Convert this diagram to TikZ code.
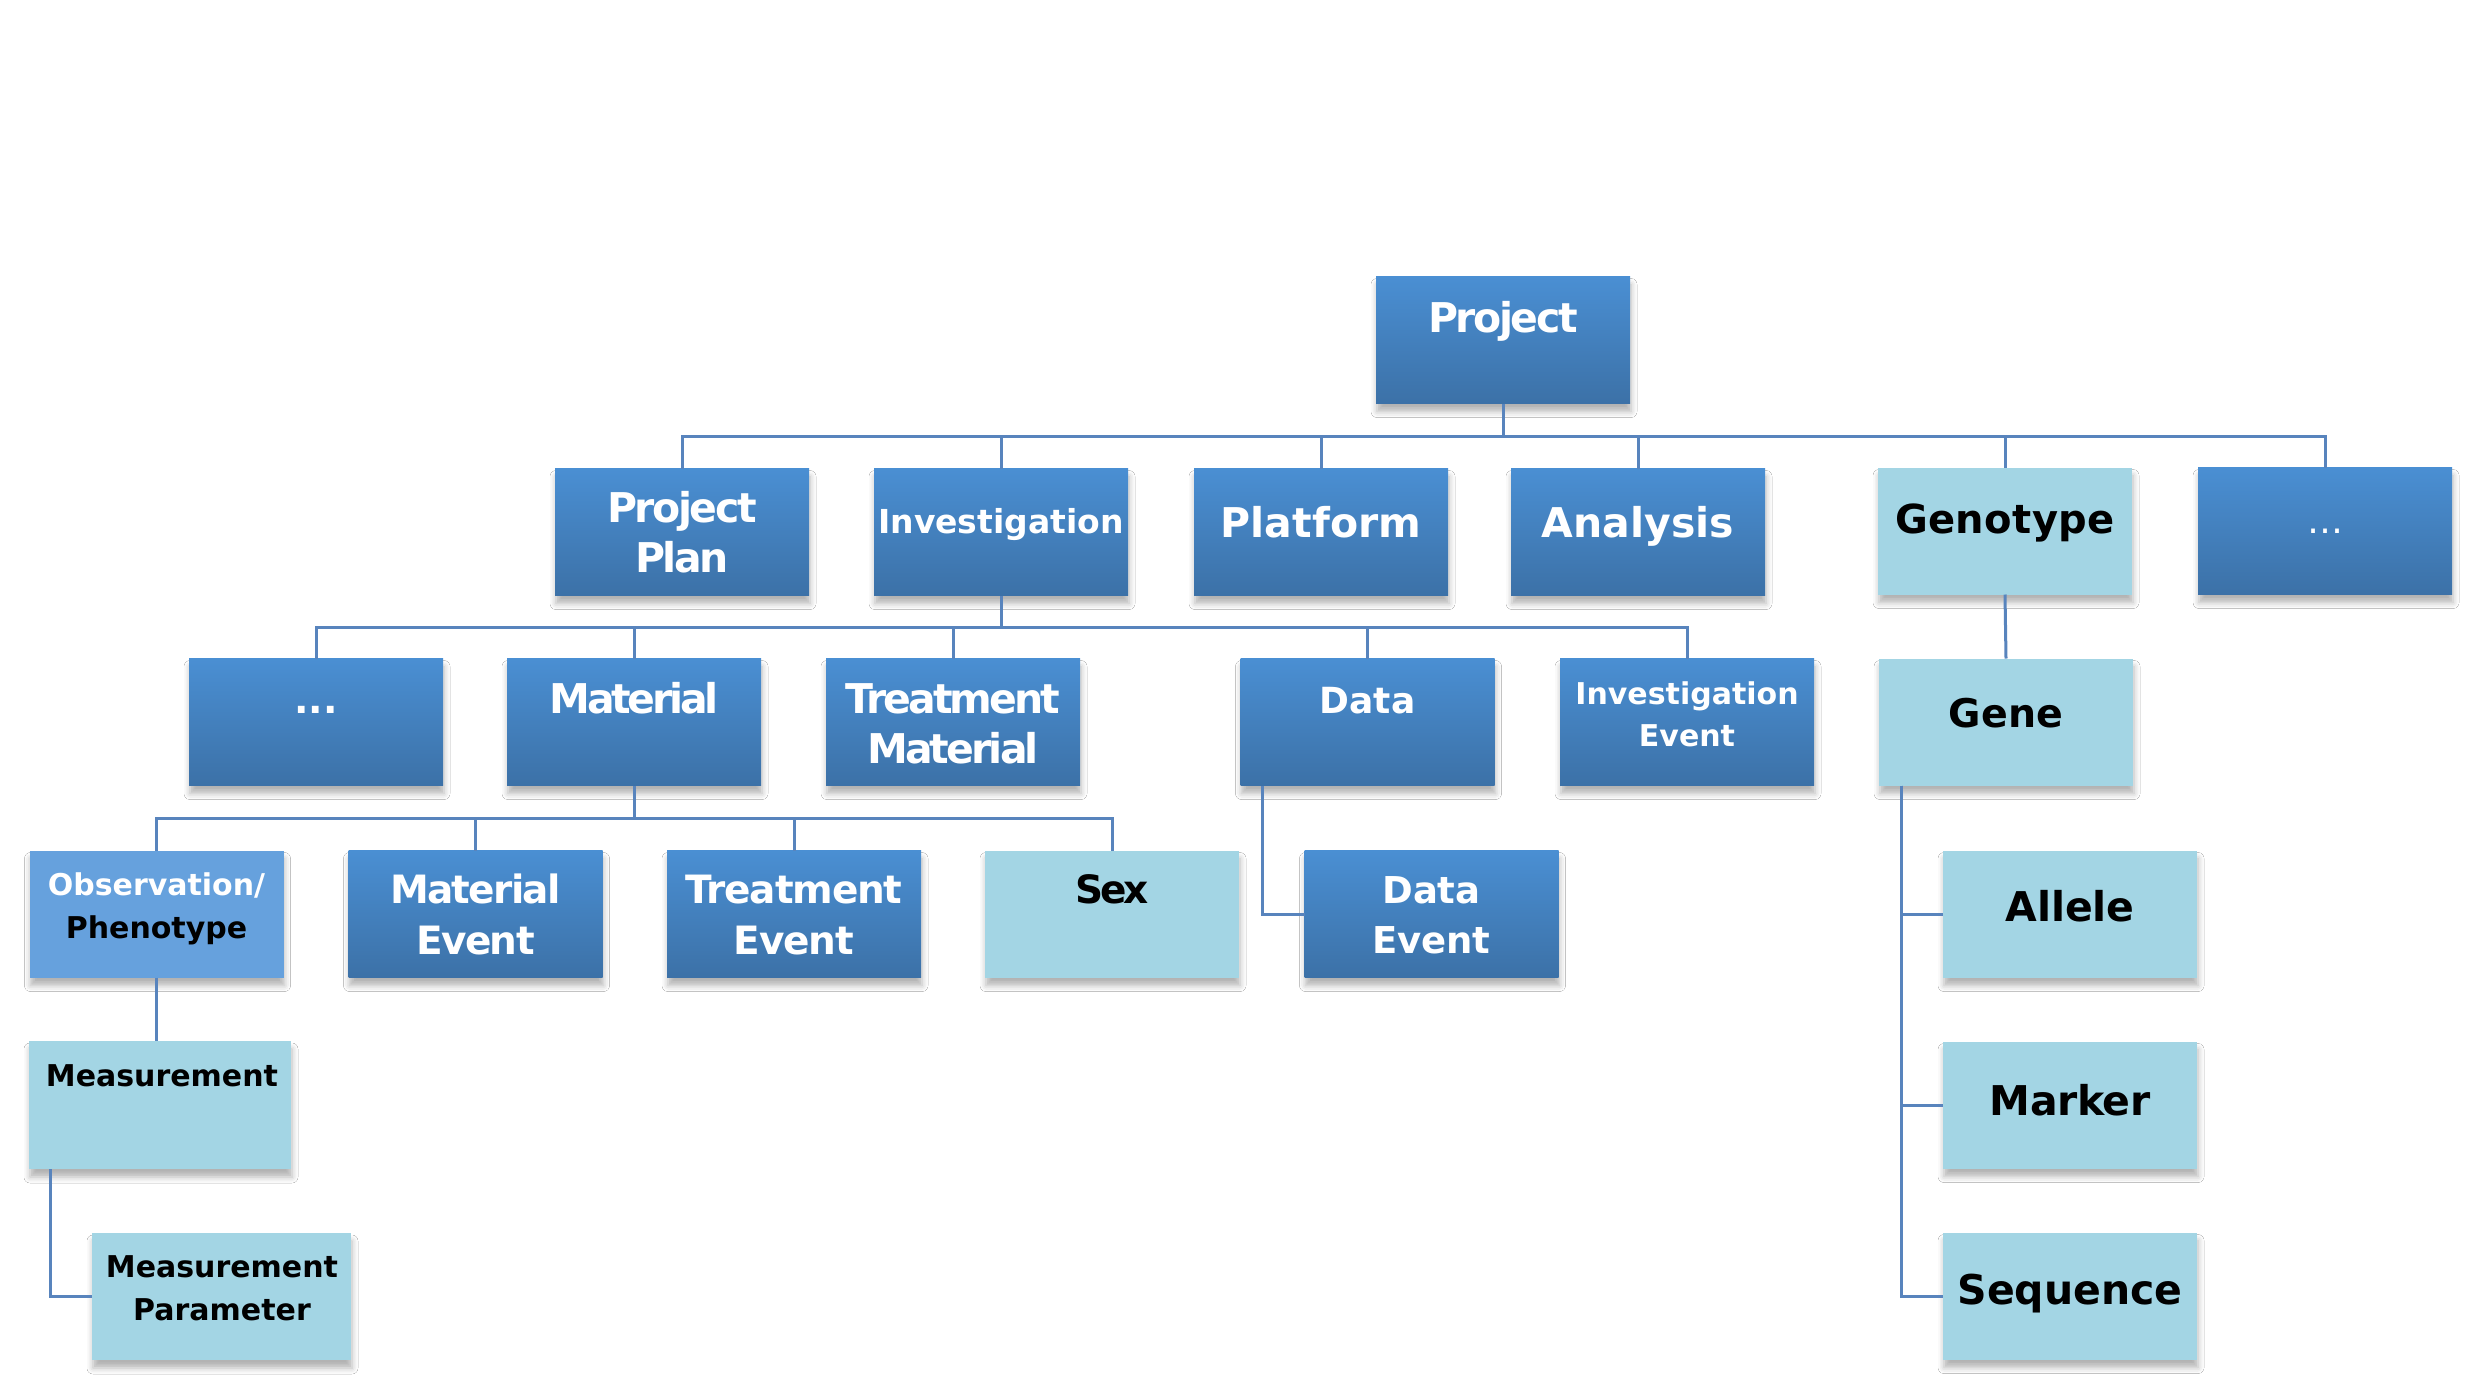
\documentclass[tikz,border=0pt]{standalone}
\usepackage{fontspec}
\setmainfont{DejaVu Sans}
\usetikzlibrary{shadows.blur}
\definecolor{dtop}{HTML}{4A8FD3}
\definecolor{dbot}{HTML}{3C71A7}
\definecolor{lite}{HTML}{A3D5E4}
\definecolor{obsc}{HTML}{66A1DD}
\definecolor{connc}{HTML}{5884BD}
\tikzset{
  boxbase/.style={rectangle, inner sep=0pt, outer sep=0pt, minimum width=254pt, minimum height=127pt,
    blur shadow={shadow xshift=1pt, shadow yshift=-8pt, shadow blur radius=6pt, shadow opacity=30}},
  dbox/.style={boxbase, top color=dtop, bottom color=dbot},
  lbox/.style={boxbase, fill=lite},
  obox/.style={boxbase, fill=obsc},
  cline/.style={draw=connc, line width=3pt},
  lt/.style args={#1/#2}{font=\bfseries\fontsize{#1}{#1}\selectfont\addfontfeatures{LetterSpace=#2}, anchor=base, inner sep=0pt, text=white},
  blk/.style={text=black},
  dotsl/.style={font=\fontsize{36}{36}\selectfont, anchor=base, inner sep=0pt, text=white},
}
\begin{document}
\begin{tikzpicture}[x=1pt,y=-1pt]
\path[fill=white] (0,0) rectangle (2466,1379);
% row 1
\node[dbox] (proj) at (1503,340) {};
\node[lt=41/-6] (tproj) at (1503,332) {Project};
% row 2
\node[dbox] (pp) at (682,532) {};
\node[lt=41/-6] (tppA) at (682,522) {Project};
\node[lt=41/-6] (tppB) at (682,572) {Plan};
\node[dbox] (inv) at (1001,532) {};
\node[lt=33/0] (tinv) at (1001,533) {Investigation};
\node[dbox] (plat) at (1321,532) {};
\node[lt=41/0] (tplat) at (1321,537) {Platform};
\node[dbox] (anal) at (1638,532) {};
\node[lt=41/0] (tanal) at (1638,537) {Analysis};
\node[lbox] (geno) at (2005,531) {};
\node[lt=40/1, blk] (tgeno) at (2005,533) {Genotype};
\node[dbox] (dtwo) at (2325,531) {};
\node[dotsl] (tdtwo) at (2325,533) {…};
% row 3
\node[dbox] (dthree) at (316,722) {};
\node[lt=38/0] (tdthree) at (316,713) {...};
\node[dbox] (mat) at (634,722) {};
\node[lt=41/-8] (tmat) at (634,713) {Material};
\node[dbox] (tm) at (953,722) {};
\node[lt=41/-7] (ttmA) at (953,713) {Treatment};
\node[lt=41/-7] (ttmB) at (953,763) {Material};
\node[dbox] (data) at (1367.5,722) {};
\node[lt=36/0] (tdata) at (1367.5,713) {Data};
\node[dbox] (ie) at (1687,722) {};
\node[lt=30/0] (tieA) at (1687,704) {Investigation};
\node[lt=30/0] (tieB) at (1687,746) {Event};
\node[lbox] (gene) at (2006,722) {};
\node[lt=39.5/1, blk] (tgene) at (2006,727) {Gene};
% row 4
\node[obox] (obs) at (156.5,914) {};
\node[lt=30/0] (tobsA) at (156.5,895) {Observation/};
\node[lt=30/0, blk] (tobsB) at (156.5,938) {Phenotype};
\node[dbox] (mev) at (475.5,914) {};
\node[lt=39/-4.3] (tmevA) at (475.5,903) {Material};
\node[lt=39/-4.3] (tmevB) at (475.5,954) {Event};
\node[dbox] (tev) at (794,914) {};
\node[lt=39/-3] (ttevA) at (794,903) {Treatment};
\node[lt=39/-3] (ttevB) at (794,954) {Event};
\node[lbox] (sex) at (1112,914) {};
\node[lt=39/-8, blk] (tsex) at (1112,903) {Sex};
\node[dbox] (dev) at (1431.5,914) {};
\node[lt=37/-1] (tdevA) at (1431.5,903) {Data};
\node[lt=37/-1] (tdevB) at (1431.5,953) {Event};
\node[lbox] (allele) at (2070,914) {};
\node[lt=41/0, blk] (tallele) at (2070,921) {Allele};
% row 5
\node[lbox, minimum width=262pt, minimum height=128pt] (meas) at (160,1105) {};
\node[lt=30/0, blk] (tmeas) at (162,1086) {Measurement};
\node[lbox] (marker) at (2070,1105) {};
\node[lt=41/-1, blk] (tmarker) at (2070,1115) {Marker};
% row 6
\node[lbox, minimum width=259pt] (mp) at (221.5,1296.5) {};
\node[lt=30/0, blk] (tmpA) at (222,1277) {Measurement};
\node[lt=30/0, blk] (tmpB) at (222,1320) {Parameter};
\node[lbox] (seq) at (2070,1296) {};
\node[lt=41/0, blk] (tseq) at (2070,1304) {Sequence};
% connectors
\coordinate (bA) at ([yshift=-33pt]proj.south);
\draw[cline] (proj.south) -- (bA);
\foreach \n in {pp,inv,plat,anal,geno,dtwo} \draw[cline] (bA) -| (\n.north);
\coordinate (bB) at ([yshift=-32pt]inv.south);
\draw[cline] (inv.south) -- (bB);
\foreach \n in {dthree,mat,tm,data,ie} \draw[cline] (bB) -| (\n.north);
\coordinate (bC) at ([yshift=-32.5pt]mat.south);
\draw[cline] (mat.south) -- (bC);
\foreach \n in {obs,mev,tev,sex} \draw[cline] (bC) -| (\n.north);
\draw[cline] ([xshift=22pt]data.south west) |- (dev.west);
\draw[cline] (geno.south) -- (gene.north);
\foreach \n in {allele,marker,seq} \draw[cline] ([xshift=22pt]gene.south west) |- (\n.west);
\draw[cline] (obs.south) -- (obs.south |- meas.north);
\draw[cline] ([xshift=21pt]meas.south west) |- (mp.west);
\end{tikzpicture}
\end{document}
